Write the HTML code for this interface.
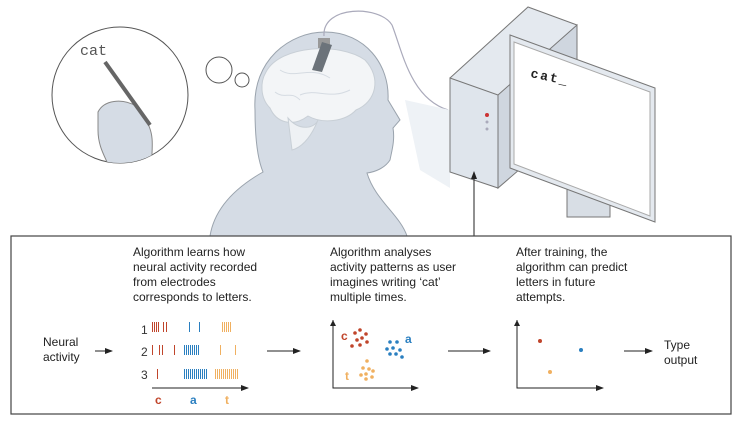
<!DOCTYPE html>
<html><head><meta charset="utf-8"><style>
body{margin:0;background:#fff;width:744px;height:421px;overflow:hidden;font-family:"Liberation Sans",sans-serif}
.t{position:absolute;font-size:12px;line-height:15px;color:#222}
</style></head><body>
<svg width="744" height="421" style="position:absolute;left:0;top:0">
<defs><marker id="a" markerWidth="8" markerHeight="8" refX="7" refY="4" orient="auto"><path d="M0,1 L8,4 L0,7Z" fill="#222"/></marker>
<clipPath id="cc"><circle cx="120" cy="95" r="68"/></clipPath></defs>
<!-- person -->
<path d="M210,236 C215,205 240,185 263,172 C258,160 255,140 255,110 C252,60 290,32 325,32 C365,32 390,65 388,100 L400,120 L393,128 C395,140 392,150 390,160 C385,168 375,172 367,173 C375,200 400,215 407,236Z" fill="#d5dce5" stroke="#9aa3ad" stroke-width="1"/>
<path d="M266,72 C280,45 340,42 365,60 C382,78 376,102 356,110 C345,122 322,124 308,116 C292,128 276,122 270,108 C260,98 260,82 266,72Z" fill="#f3f5f7" stroke="#c8cfd6"/>
<path d="M280,70 C295,80 310,65 330,78 M300,95 C315,88 330,100 350,90 M275,92 C285,100 290,90 300,100" fill="none" stroke="#d5dbe2"/>
<path d="M288,118 C300,132 315,128 318,120 C310,140 300,148 292,150Z" fill="#eef1f4" stroke="#c8cfd6"/>
<rect x="318" y="38" width="12" height="10" fill="#999"/>
<path d="M312,70 L322,42 L332,45 L322,72Z" fill="#6c737a"/>
<path d="M324,36 C322,5 380,5 392,25 C402,50 410,98 448,110" fill="none" stroke="#aab" stroke-width="1.2"/>
<!-- thought -->
<circle cx="120" cy="95" r="68" fill="#fff" stroke="#555"/>
<g clip-path="url(#cc)">
<path d="M98,112 C104,100 122,98 136,106 L148,124 C156,140 150,155 152,175 L112,175 C108,160 98,150 98,130Z" fill="#d5dce5" stroke="#888"/>
</g>
<line x1="105" y1="62" x2="150" y2="125" stroke="#666" stroke-width="4"/>
<text x="80" y="55" font-family="Liberation Mono" font-size="15" fill="#555">cat</text>
<circle cx="219" cy="70" r="13" fill="#fff" stroke="#555"/>
<circle cx="242" cy="80" r="7" fill="#fff" stroke="#555"/>
<!-- computer -->
<polygon points="405,100 450,110 450,188 420,170" fill="#eef2f6"/>
<polygon points="450,78 528,7 577,25 577,60 498,130" fill="#e4e9ef" stroke="#777"/>
<polygon points="450,78 498,95 498,188 450,172" fill="#dfe5ec" stroke="#777"/>
<polygon points="498,95 577,25 577,120 498,188" fill="#cfd6df" stroke="#777"/>
<rect x="567" y="188" width="43" height="29" fill="#d8dee5" stroke="#777"/>
<polygon points="510,35 655,88 655,222 510,168" fill="#e4e9ef" stroke="#777"/>
<polygon points="514,42 650,92 650,216 514,164" fill="#fff" stroke="#aaa"/>
<text x="530" y="77" font-family="Liberation Mono" font-weight="bold" font-size="13" fill="#222" letter-spacing="2" transform="rotate(12 530 77)">cat_</text>
<circle cx="487" cy="115" r="2" fill="#c33"/><circle cx="487" cy="122" r="1.5" fill="#aab"/><circle cx="487" cy="129" r="1.5" fill="#aab"/>
<line x1="474" y1="236" x2="474" y2="172" stroke="#222" marker-end="url(#a)"/>
<!-- panel -->
<rect x="11" y="236" width="720" height="178" fill="#fff" stroke="#444" stroke-width="1.2"/>
<line x1="95" y1="351" x2="112" y2="351" stroke="#222" marker-end="url(#a)"/>
<line x1="267" y1="351" x2="300" y2="351" stroke="#222" marker-end="url(#a)"/>
<line x1="448" y1="351" x2="490" y2="351" stroke="#222" marker-end="url(#a)"/>
<line x1="624" y1="351" x2="652" y2="351" stroke="#222" marker-end="url(#a)"/>
<g font-size="12" fill="#333"><text x="141" y="334">1</text><text x="141" y="356">2</text><text x="141" y="379">3</text></g>
<g stroke-width="1">
<path d="M152.5,322v10M154.5,322v10M156.5,322v10M158.5,322v10M163.5,322v10M166.5,322v10" stroke="#c0452b"/>
<path d="M189.5,322v10M199.5,322v10" stroke="#2a7fc0"/>
<path d="M222.5,322v10M224.5,322v10M226.5,322v10M228.5,322v10M230.5,322v10" stroke="#f0b060"/>
<path d="M152.5,345v10M159.5,345v10M162.5,345v10M174.5,345v10" stroke="#c0452b"/>
<path d="M184.5,345v10M186.5,345v10M188.5,345v10M190.5,345v10M192.5,345v10M194.5,345v10M196.5,345v10M198.5,345v10" stroke="#2a7fc0"/>
<path d="M220.5,345v10M235.5,345v10" stroke="#f0b060"/>
<path d="M157.5,369v10" stroke="#c0452b"/>
<path d="M184.5,369v10M186.5,369v10M188.5,369v10M190.5,369v10M192.5,369v10M194.5,369v10M196.5,369v10M198.5,369v10M200.5,369v10M202.5,369v10M204.5,369v10M206.5,369v10" stroke="#2a7fc0"/>
<path d="M215.5,369v10M217.5,369v10M219.5,369v10M221.5,369v10M223.5,369v10M225.5,369v10M227.5,369v10M229.5,369v10M231.5,369v10M233.5,369v10M235.5,369v10M237.5,369v10" stroke="#f0b060"/>
</g>
<line x1="152" y1="388" x2="248" y2="388" stroke="#222" marker-end="url(#a)"/>
<g font-size="12" font-weight="bold"><text x="155" y="404" fill="#c0452b">c</text><text x="190" y="404" fill="#2a7fc0">a</text><text x="225" y="404" fill="#f0b060">t</text></g>
<!-- scatter 1 -->
<path d="M333,320 V388 H418" fill="none" stroke="#222" marker-end="url(#a)"/>
<path d="M333,320 l-3,6 h6z" fill="#222"/>
<text x="341" y="340" font-size="12" font-weight="bold" fill="#c0452b">c</text>
<g fill="#c0452b"><circle cx="355" cy="333" r="1.8"/><circle cx="360" cy="330" r="1.8"/><circle cx="366" cy="334" r="1.8"/><circle cx="357" cy="340" r="1.8"/><circle cx="362" cy="338" r="1.8"/><circle cx="367" cy="342" r="1.8"/><circle cx="352" cy="346" r="1.8"/><circle cx="360" cy="345" r="1.8"/></g>
<text x="405" y="343" font-size="12" font-weight="bold" fill="#2a7fc0">a</text>
<g fill="#2a7fc0"><circle cx="390" cy="342" r="1.8"/><circle cx="397" cy="342" r="1.8"/><circle cx="387" cy="349" r="1.8"/><circle cx="393" cy="348" r="1.8"/><circle cx="400" cy="350" r="1.8"/><circle cx="396" cy="354" r="1.8"/><circle cx="390" cy="354" r="1.8"/><circle cx="402" cy="357" r="1.8"/></g>
<text x="345" y="380" font-size="12" font-weight="bold" fill="#f0b060">t</text>
<g fill="#f0b060"><circle cx="367" cy="361" r="1.8"/><circle cx="363" cy="368" r="1.8"/><circle cx="369" cy="369" r="1.8"/><circle cx="373" cy="371" r="1.8"/><circle cx="366" cy="374" r="1.8"/><circle cx="361" cy="375" r="1.8"/><circle cx="372" cy="377" r="1.8"/><circle cx="366" cy="379" r="1.8"/></g>
<!-- scatter 2 -->
<path d="M517,320 V388 H603" fill="none" stroke="#222" marker-end="url(#a)"/>
<path d="M517,320 l-3,6 h6z" fill="#222"/>
<circle cx="540" cy="341" r="2" fill="#c0452b"/><circle cx="581" cy="350" r="2" fill="#2a7fc0"/><circle cx="550" cy="372" r="2" fill="#f0b060"/>
</svg>
<div class="t" style="left:133px;top:245px">Algorithm learns how<br>neural activity recorded<br>from electrodes<br>corresponds to letters.</div>
<div class="t" style="left:330px;top:245px">Algorithm analyses<br>activity patterns as user<br>imagines writing ‘cat’<br>multiple times.</div>
<div class="t" style="left:516px;top:245px">After training, the<br>algorithm can predict<br>letters in future<br>attempts.</div>
<div class="t" style="left:43px;top:335px">Neural<br>activity</div>
<div class="t" style="left:664px;top:338px">Type<br>output</div>
</body></html>
